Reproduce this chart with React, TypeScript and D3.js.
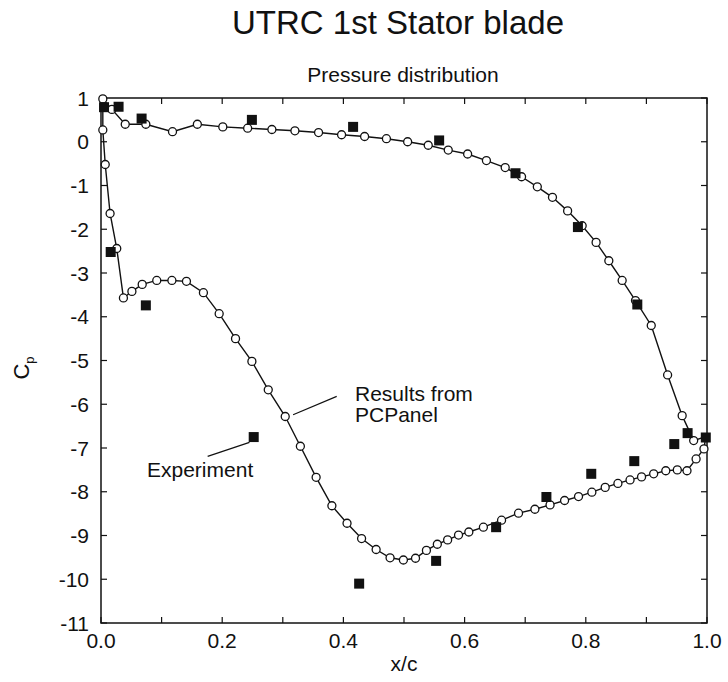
import { useEffect, useRef } from "react"
import * as d3 from "d3"

// PCPanel results: pressure side from leading edge to trailing edge
const pressureX = [0.003, 0.018, 0.04, 0.074, 0.118, 0.159, 0.201, 0.242, 0.282, 0.32, 0.359, 0.397, 0.435, 0.471, 0.506, 0.54, 0.573, 0.605, 0.636, 0.667, 0.694, 0.72, 0.745, 0.77, 0.794, 0.817, 0.838, 0.86, 0.882, 0.908, 0.935, 0.959, 0.978]
const pressureCp = [0.98, 0.74, 0.4, 0.4, 0.23, 0.4, 0.34, 0.31, 0.28, 0.25, 0.21, 0.16, 0.12, 0.07, 0.0, -0.08, -0.19, -0.28, -0.43, -0.59, -0.8, -1.03, -1.27, -1.58, -1.92, -2.3, -2.72, -3.17, -3.63, -4.2, -5.33, -6.26, -6.83]

// suction side from trailing edge back to leading edge
const suctionX = [0.998, 0.995, 0.982, 0.967, 0.951, 0.932, 0.912, 0.892, 0.873, 0.853, 0.832, 0.81, 0.788, 0.765, 0.741, 0.716, 0.689, 0.661, 0.631, 0.607, 0.59, 0.572, 0.555, 0.537, 0.519, 0.499, 0.477, 0.454, 0.43, 0.406, 0.381, 0.355, 0.329, 0.304, 0.276, 0.249, 0.222, 0.195, 0.169, 0.141, 0.117, 0.092, 0.068, 0.051, 0.037, 0.026, 0.015, 0.007, 0.003, 0.003]
const suctionCp = [-6.74, -7.02, -7.25, -7.52, -7.5, -7.52, -7.59, -7.66, -7.73, -7.81, -7.9, -8.01, -8.11, -8.2, -8.3, -8.4, -8.49, -8.65, -8.81, -8.92, -8.99, -9.1, -9.2, -9.34, -9.52, -9.56, -9.51, -9.32, -9.07, -8.72, -8.32, -7.67, -6.96, -6.28, -5.67, -5.02, -4.5, -3.93, -3.45, -3.19, -3.17, -3.17, -3.26, -3.42, -3.57, -2.44, -1.64, -0.52, 0.27, 0.98]

// experiment
const expX = [0.005, 0.029, 0.067, 0.249, 0.416, 0.558, 0.684, 0.787, 0.885, 0.968, 0.998, 0.946, 0.88, 0.809, 0.735, 0.652, 0.553, 0.426, 0.252, 0.074, 0.016]
const expCp = [0.79, 0.8, 0.53, 0.5, 0.34, 0.03, -0.72, -1.95, -3.72, -6.66, -6.76, -6.91, -7.3, -7.59, -8.12, -8.81, -9.58, -10.1, -6.75, -3.74, -2.52]

const xTicks = [0, 0.2, 0.4, 0.6, 0.8, 1.0]
const yTicks = [1, 0, -1, -2, -3, -4, -5, -6, -7, -8, -9, -10, -11]

const FONT = "'Liberation Sans', Arial, Helvetica, sans-serif"

export default function App() {
  const svgRef = useRef<SVGSVGElement>(null)

  useEffect(() => {
    if (!svgRef.current) return
    const svg = d3.select(svgRef.current)
    svg.selectAll("*").remove()

    const width = 728
    const height = 682
    const left = 101
    const right = 707
    const top = 98
    const bottom = 623

    svg.attr("width", width).attr("height", height)
    svg.append("rect").attr("width", width).attr("height", height).attr("fill", "#ffffff")

    const x = d3.scaleLinear().domain([0, 1]).range([left, right])
    const y = d3.scaleLinear().domain([-11, 1]).range([bottom, top])

    // frame
    svg
      .append("rect")
      .attr("x", left)
      .attr("y", top)
      .attr("width", right - left)
      .attr("height", bottom - top)
      .attr("fill", "none")
      .attr("stroke", "#111")
      .attr("stroke-width", 1.5)

    // inward ticks on all four sides
    const minorX = d3.range(0, 11).map((i) => i / 10)
    const tickLen = 6
    const tg = svg.append("g").attr("stroke", "#111").attr("stroke-width", 1.2)
    minorX.forEach((v) => {
      tg.append("line").attr("x1", x(v)).attr("x2", x(v)).attr("y1", bottom).attr("y2", bottom - tickLen)
      tg.append("line").attr("x1", x(v)).attr("x2", x(v)).attr("y1", top).attr("y2", top + tickLen)
    })
    yTicks.forEach((v) => {
      tg.append("line").attr("x1", left).attr("x2", left + tickLen).attr("y1", y(v)).attr("y2", y(v))
      tg.append("line").attr("x1", right).attr("x2", right - tickLen).attr("y1", y(v)).attr("y2", y(v))
    })

    // tick labels
    svg
      .append("g")
      .selectAll("text")
      .data(xTicks)
      .enter()
      .append("text")
      .attr("x", (d) => x(d))
      .attr("y", 648)
      .attr("text-anchor", "middle")
      .style("font-family", FONT)
      .style("font-size", "21px")
      .style("fill", "#111")
      .text((d) => d3.format(".1f")(d))

    svg
      .append("g")
      .selectAll("text")
      .data(yTicks)
      .enter()
      .append("text")
      .attr("x", 89)
      .attr("y", (d) => y(d))
      .attr("dy", "0.36em")
      .attr("text-anchor", "end")
      .style("font-family", FONT)
      .style("font-size", "21px")
      .style("fill", "#111")
      .text((d) => String(d))

    // titles
    svg
      .append("text")
      .attr("x", 398)
      .attr("y", 34)
      .attr("text-anchor", "middle")
      .style("font-family", FONT)
      .style("font-size", "33px")
      .style("fill", "#111")
      .text("UTRC 1st Stator blade")

    svg
      .append("text")
      .attr("x", 403)
      .attr("y", 82)
      .attr("text-anchor", "middle")
      .style("font-family", FONT)
      .style("font-size", "21px")
      .style("fill", "#111")
      .text("Pressure distribution")

    svg
      .append("text")
      .attr("x", 404)
      .attr("y", 671)
      .attr("text-anchor", "middle")
      .style("font-family", FONT)
      .style("font-size", "21px")
      .style("fill", "#111")
      .text("x/c")

    const cp = svg
      .append("text")
      .attr("transform", "translate(29, 368) rotate(-90)")
      .attr("text-anchor", "middle")
      .style("font-family", FONT)
      .style("font-size", "22px")
      .style("fill", "#111")
    cp.append("tspan").text("C")
    cp.append("tspan").attr("dy", 5).style("font-size", "13px").text("p")

    // PCPanel curve (closed loop around the blade)
    const curve = pressureX
      .map((d, i) => [d, pressureCp[i]] as [number, number])
      .concat(suctionX.map((d, i) => [d, suctionCp[i]] as [number, number]))

    const line = d3
      .line<[number, number]>()
      .x((d) => x(d[0]))
      .y((d) => y(d[1]))

    svg
      .append("path")
      .datum(curve)
      .attr("d", line)
      .attr("fill", "none")
      .attr("stroke", "#111")
      .attr("stroke-width", 1.4)

    // circles (skip hidden TE point)
    svg
      .append("g")
      .selectAll("circle")
      .data(curve.filter((d, i) => i !== pressureX.length && i !== curve.length - 1))
      .enter()
      .append("circle")
      .attr("cx", (d) => x(d[0]))
      .attr("cy", (d) => y(d[1]))
      .attr("r", 4)
      .attr("fill", "#fff")
      .attr("stroke", "#111")
      .attr("stroke-width", 1.3)

    // experiment squares
    const sq = 10
    svg
      .append("g")
      .selectAll("rect")
      .data(expX.map((d, i) => [d, expCp[i]]))
      .enter()
      .append("rect")
      .attr("x", (d) => x(d[0]) - sq / 2)
      .attr("y", (d) => y(d[1]) - sq / 2)
      .attr("width", sq)
      .attr("height", sq)
      .attr("fill", "#111")

    // annotations
    svg
      .append("line")
      .attr("x1", x(0.317))
      .attr("y1", y(-6.24))
      .attr("x2", x(0.389))
      .attr("y2", y(-5.82))
      .attr("stroke", "#111")
      .attr("stroke-width", 1.2)

    const res = svg
      .append("text")
      .style("font-family", FONT)
      .style("font-size", "21px")
      .style("fill", "#111")
    res.append("tspan").attr("x", 355).attr("y", 401).text("Results from")
    res.append("tspan").attr("x", 355).attr("y", 422).text("PCPanel")

    svg
      .append("line")
      .attr("x1", x(0.176))
      .attr("y1", y(-7.19))
      .attr("x2", x(0.245))
      .attr("y2", y(-6.87))
      .attr("stroke", "#111")
      .attr("stroke-width", 1.2)

    svg
      .append("text")
      .attr("x", 147)
      .attr("y", 477)
      .style("font-family", FONT)
      .style("font-size", "21px")
      .style("fill", "#111")
      .text("Experiment")
  }, [])

  return (
    <svg
      ref={svgRef}
      style={{ position: "absolute", left: 0, top: 0, display: "block" }}
    ></svg>
  )
}
